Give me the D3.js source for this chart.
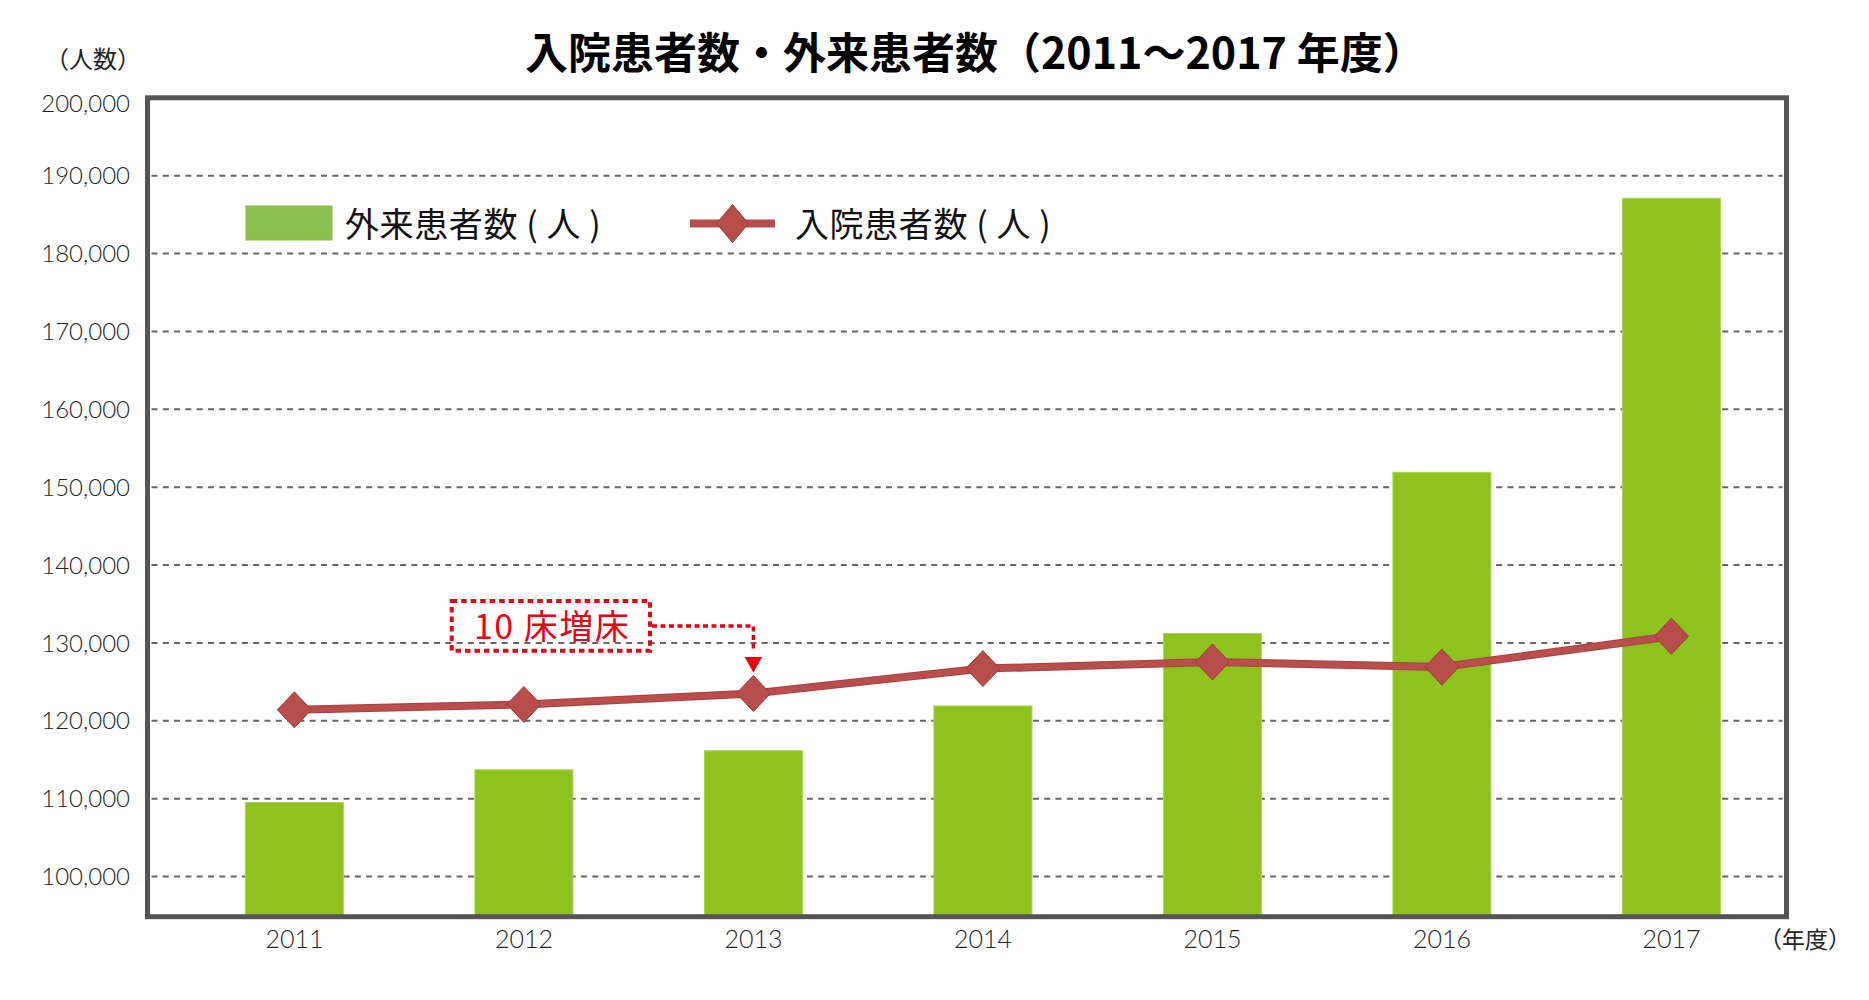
<!DOCTYPE html>
<html>
<head>
<meta charset="utf-8">
<script src="https://cdn.jsdelivr.net/npm/d3@7"></script>
<style>
  html, body { margin: 0; padding: 0; background: #fff; }
  svg { display: block; }
</style>
</head>
<body>
<svg id="chart" width="1869" height="1000"></svg>
<script>
// ---- data ----
const years = ["2011", "2012", "2013", "2014", "2015", "2016", "2017"];
const outpatients = [109500, 113700, 116150, 121900, 131200, 151900, 187100];
const inpatients  = [121400, 122100, 123500, 126700, 127550, 126900, 130850];
const yTicks = [100000, 110000, 120000, 130000, 140000, 150000, 160000, 170000, 180000, 190000, 200000];
const titleText = "入院患者数・外来患者数（2011～2017 年度）";
const legendOut = "外来患者数 ( 人 )";
const legendIn = "入院患者数 ( 人 )";
const yUnit = "（人数）";
const xUnit = "（年度）";
const noteText = "10 床増床";
const noteYear = "2013";

// ---- layout ----
const CJK = "'Noto Sans CJK JP', 'Noto Sans', sans-serif";
const NUM = "Lato, 'Noto Sans', sans-serif";
const frame = { left: 147.5, right: 1786.5 };
const axisMin = 94840;

const svg = d3.select("#chart");

const y = d3.scaleLinear().domain([100000, 200000]).range([876.5, 97.8]);
const x = d3.scaleBand().domain(years).range([179.65, 1786.15])
  .paddingInner(0.573).paddingOuter(0.2865);
const cx = d => x(d) + x.bandwidth() / 2;
const frameTop = y(200000), frameBottom = y(axisMin);

// gridlines
svg.append("g").selectAll("line")
  .data(yTicks.filter(t => t < 200000))
  .join("line")
  .attr("x1", frame.left + 4).attr("x2", frame.right - 4)
  .attr("y1", d => y(d)).attr("y2", d => y(d))
  .attr("stroke", "#666").attr("stroke-width", 2)
  .attr("stroke-dasharray", "6 5.3");

// y axis labels
const yAxis = d3.axisLeft(y).tickValues(yTicks).tickSize(0).tickPadding(0)
  .tickFormat(d3.format(","));
const gy = svg.append("g").attr("transform", "translate(130,0)").call(yAxis);
gy.select(".domain").remove();
gy.selectAll("text").attr("font-family", NUM).attr("font-size", 24)
  .attr("font-weight", 300).attr("fill", "#222")
  .attr("dy", d => d === 200000 ? "0.56em" : "0.34em");

// bars
svg.append("g").selectAll("rect")
  .data(outpatients)
  .join("rect")
  .attr("x", (d, i) => x(years[i]))
  .attr("width", x.bandwidth())
  .attr("y", d => y(d))
  .attr("height", d => frameBottom - y(d))
  .attr("fill", "#8dc21f")
  .attr("stroke", "#a9d651").attr("stroke-width", 1);

// frame
svg.append("rect")
  .attr("x", frame.left).attr("y", frameTop)
  .attr("width", frame.right - frame.left).attr("height", frameBottom - frameTop)
  .attr("fill", "none").attr("stroke", "#555").attr("stroke-width", 5);

// x axis labels
const xAxis = d3.axisBottom(x).tickSize(0).tickPadding(0);
const gx = svg.append("g").attr("transform", "translate(0,939)").call(xAxis);
gx.select(".domain").remove();
gx.selectAll("text").attr("font-family", NUM).attr("font-size", 25)
  .attr("font-weight", 300).attr("fill", "#222").attr("dy", "0.36em");

// line
const lineGen = d3.line().x((d, i) => cx(years[i])).y(d => y(d));
svg.append("path").datum(inpatients)
  .attr("d", lineGen).attr("fill", "none")
  .attr("stroke", "#a5413f").attr("stroke-width", 8);
svg.append("path").datum(inpatients)
  .attr("d", lineGen).attr("fill", "none")
  .attr("stroke", "#b94e4c").attr("stroke-width", 6);

const diamond = (w, h) => `M0,${-h/2}L${w/2},0L0,${h/2}L${-w/2},0Z`;
svg.append("g").selectAll("path")
  .data(inpatients)
  .join("path")
  .attr("transform", (d, i) => `translate(${cx(years[i])},${y(d)})`)
  .attr("d", diamond(34, 36))
  .attr("fill", "#b84e4c").attr("stroke", "#9f3a38").attr("stroke-width", 1);

// title
svg.append("text").attr("x", 525).attr("y", 69)
  .attr("font-family", CJK).attr("font-weight", 700).attr("font-size", 43)
  .attr("fill", "#000").text(titleText);

// unit labels
svg.append("text").attr("x", 141).attr("y", 68).attr("text-anchor", "end")
  .attr("font-family", CJK).attr("font-size", 24).attr("fill", "#222").text(yUnit);
svg.append("text").attr("x", 1759).attr("y", 948)
  .attr("font-family", CJK).attr("font-size", 23).attr("fill", "#222").text(xUnit);

// legend
const lg = svg.append("g");
lg.append("rect").attr("x", 246).attr("y", 206).attr("width", 86).attr("height", 34)
  .attr("fill", "#8dbf4f").attr("stroke", "#84b845").attr("stroke-width", 1);
lg.append("text").attr("x", 345).attr("y", 237).attr("letter-spacing", 0.6)
  .attr("font-family", CJK).attr("font-size", 34).attr("fill", "#111").text(legendOut);
lg.append("line").attr("x1", 690).attr("x2", 775).attr("y1", 223.5).attr("y2", 223.5)
  .attr("stroke", "#b84e4c").attr("stroke-width", 8);
lg.append("path").attr("transform", "translate(732.5,223.5)")
  .attr("d", diamond(32, 38)).attr("fill", "#b84e4c")
  .attr("stroke", "#9f3a38").attr("stroke-width", 1);
lg.append("text").attr("x", 795).attr("y", 237).attr("letter-spacing", 0.6)
  .attr("font-family", CJK).attr("font-size", 34).attr("fill", "#111").text(legendIn);

// annotation
const red = "#e60012";
const ax = cx(noteYear);
const tipY = y(inpatients[years.indexOf(noteYear)]) - 21;
const ann = svg.append("g");
ann.append("rect").attr("x", 451.7).attr("y", 601).attr("width", 198.3).attr("height", 49.7)
  .attr("fill", "none").attr("stroke", red).attr("stroke-width", 4)
  .attr("stroke-dasharray", "5.5 4");
ann.append("text").attr("x", 474).attr("y", 639).attr("letter-spacing", 1.5)
  .attr("font-family", CJK).attr("font-size", 34).attr("fill", red).text(noteText);
ann.append("path")
  .attr("d", `M652,626H${ax}V${tipY - 22}`)
  .attr("fill", "none").attr("stroke", red).attr("stroke-width", 3.5)
  .attr("stroke-dasharray", "5 3.5");
ann.append("path")
  .attr("d", `M${ax - 8.8},${tipY - 15.4}L${ax + 8.8},${tipY - 15.4}L${ax},${tipY}Z`)
  .attr("fill", red);
</script>
</body>
</html>
